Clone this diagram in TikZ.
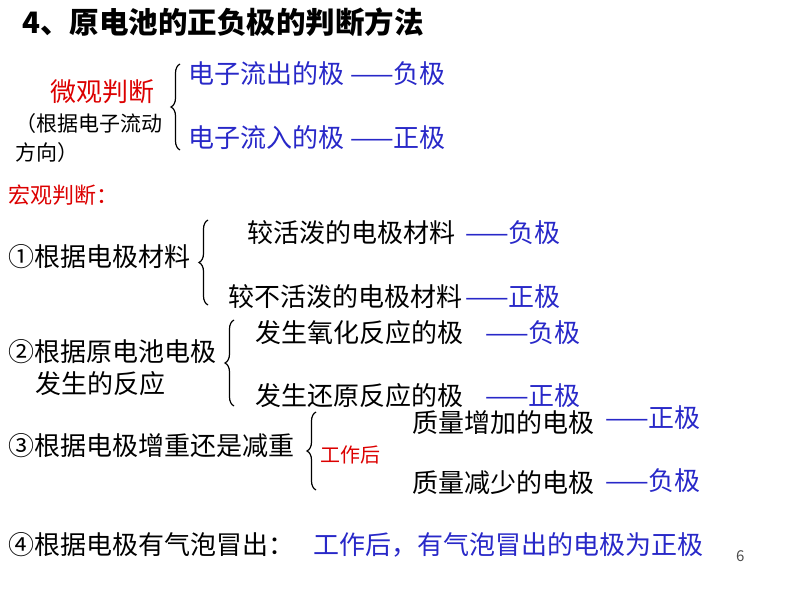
\documentclass[tikz,border=0pt]{standalone}
\usepackage{fontspec}
\setmainfont{Noto Sans CJK SC}
\usetikzlibrary{decorations.pathreplacing}
\definecolor{bl}{RGB}{40,40,200}
\definecolor{rd}{RGB}{220,0,0}
\begin{document}
\begin{tikzpicture}[x=1pt,y=-1pt,
 t/.style={anchor=west,inner sep=0pt,font=\fontsize{26}{26}\selectfont},
 b/.style={t,text=bl},
 r/.style={t,text=rd},
 br/.style={decorate,decoration={brace,amplitude=9pt},line width=1.2pt}]
\useasboundingbox (0,0) rectangle (794,596);
\node[t,font=\fontsize{29.5}{29.5}\bfseries\selectfont] (title) at (22,22) {4、原电池的正负极的判断方法};
\node[r] (wg) at (50,92) {微观判断};
\node[t,font=\fontsize{21}{21}\selectfont] (wg2) at (15,124) {（根据电子流动};
\node[t,font=\fontsize{21}{21}\selectfont] (wg3) at (15,153) {方向）};
\draw[br] (180,150) -- (180,64);
\node[b] (e1) at (188,74) {电子流出的极 ——负极};
\node[b] (e2) at (188,138) {电子流入的极 ——正极};
\node[r,font=\fontsize{22}{22}\selectfont] (hg) at (8,195) {宏观判断：};
\node[t] (m1) at (8,257) {①根据电极材料};
\draw[br] (208,305) -- (208,220);
\node[t] (a1) at (247,233) {较活泼的电极材料};
\node[b] (a1b) at (465,233) {——负极};
\node[t] (a2) at (228,297) {较不活泼的电极材料};
\node[b] (a2b) at (465,297) {——正极};
\node[t] (m2) at (8,352) {②根据原电池电极};
\node[t] (m2b) at (35,384) {发生的反应};
\draw[br] (234,406) -- (234,320);
\node[t] (c1) at (255,333) {发生氧化反应的极};
\node[b] (c1b) at (485,333) {——负极};
\node[t] (c2) at (255,396) {发生还原反应的极};
\node[b] (c2b) at (485,396) {——正极};
\node[t] (m3) at (8,446) {③根据电极增重还是减重};
\draw[br] (316,490) -- (316,412);
\node[r,font=\fontsize{20}{20}\selectfont] (gz) at (320,455) {工作后};
\node[t] (d1) at (412,423) {质量增加的电极};
\node[b] (d1b) at (605,418) {——正极};
\node[t] (d2) at (412,483) {质量减少的电极};
\node[b] (d2b) at (605,481) {——负极};
\node[t] (m4) at (8,545) {④根据电极有气泡冒出：};
\node[b] (m4b) at (313,545) {工作后，有气泡冒出的电极为正极};
\node[t,font=\fontsize{15}{15}\selectfont,text=black!70] (pg) at (736,556) {6};
\end{tikzpicture}
\end{document}
